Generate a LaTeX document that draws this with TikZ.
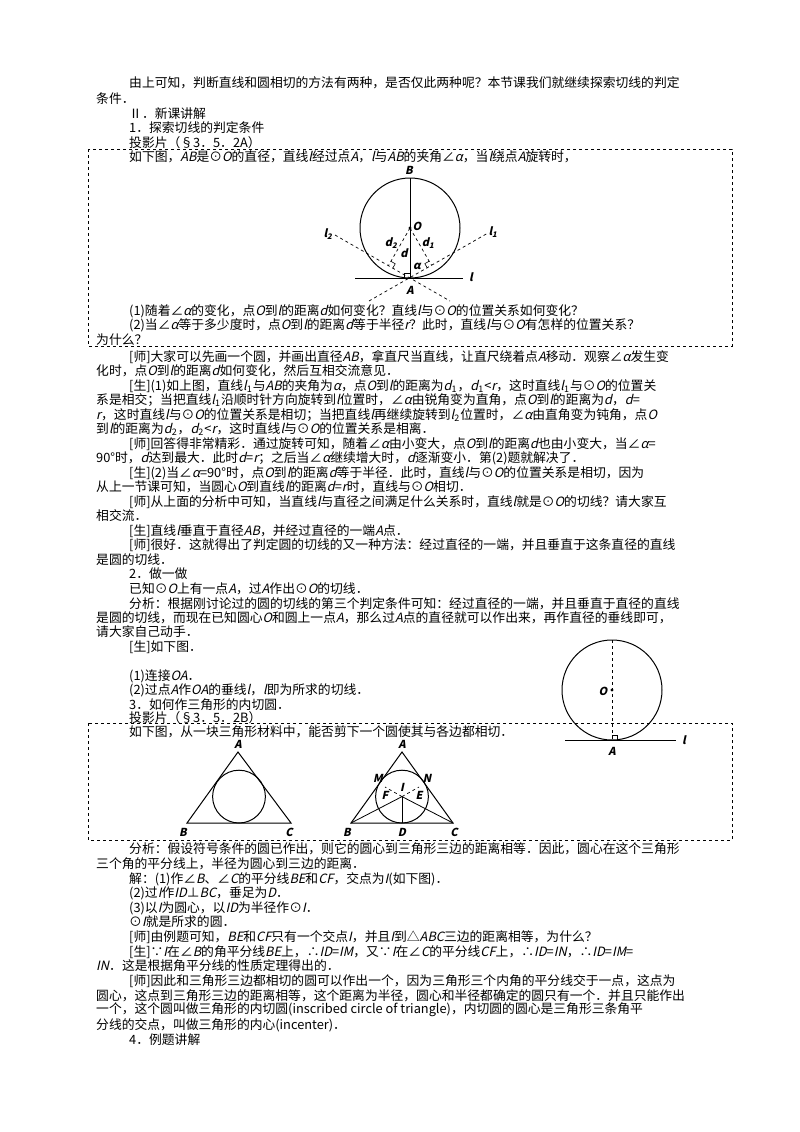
\documentclass[tikz,border=0pt]{standalone}
\usepackage{fontspec}
\setmainfont{Noto Sans CJK SC}
\newfontfamily\slf[FakeSlant=0.22]{Noto Sans CJK SC}
\newcommand\I[1]{{\slf #1}}
\newcommand\sub[1]{\textsubscript{#1}\kern0.5pt}
\usetikzlibrary{calc}
\begin{document}
\begin{tikzpicture}[x=1pt,y=-1pt,
  tl/.style={anchor=west,inner sep=0pt,font=\fontsize{12.8}{14}\selectfont},
  lab/.style={inner sep=0pt,font=\fontsize{11}{12}\selectfont\slf\bfseries},
  fig/.style={line width=1pt},
  dl/.style={dashed,line width=0.7pt},
  box/.style={dashed,line width=0.6pt}]
\useasboundingbox[fill=white] (0,0) rectangle (800,1132);
\def\a{129}\def\n{96}
% text lines
\foreach \x/\y/\t in {
\a/83/{由上可知，判断直线和圆相切的方法有两种，是否仅此两种呢？本节课我们就继续探索切线的判定},
\n/99/{条件．},
\a/114/{Ⅱ．新课讲解},
\a/128/{1．探索切线的判定条件},
\a/143/{投影片（§3．5．2A）},
\a/157/{如下图，\I{AB}是⊙\I{O}的直径，直线\I{l}经过点\I{A}，\I{l}与\I{AB}的夹角∠\I{α}，当\I{l}绕点\I{A}旋转时，},
\a/311/{(1)随着∠\I{α}的变化，点\I{O}到\I{l}的距离\I{d}如何变化？直线\I{l}与⊙\I{O}的位置关系如何变化？},
\a/325/{(2)当∠\I{α}等于多少度时，点\I{O}到\I{l}的距离\I{d}等于半径\I{r}？此时，直线\I{l}与⊙\I{O}有怎样的位置关系？},
\n/340/{为什么？},
\a/357/{[师]大家可以先画一个圆，并画出直径\I{AB}，拿直尺当直线，让直尺绕着点\I{A}移动．观察∠\I{α}发生变},
\n/371/{化时，点\I{O}到\I{l}的距离\I{d}如何变化，然后互相交流意见．},
\a/386/{[生](1)如上图，直线\I{l}\sub{1}与\I{AB}的夹角为\I{α}，点\I{O}到\I{l}的距离为\I{d}\sub{1}，\I{d}\sub{1}<\I{r}，这时直线\I{l}\sub{1}与⊙\I{O}的位置关},
\n/400/{系是相交；当把直线\I{l}\sub{1}沿顺时针方向旋转到\I{l}位置时，∠\I{α}由锐角变为直角，点\I{O}到\I{l}的距离为\I{d}，\I{d}=},
\n/415/{\I{r}，这时直线\I{l}与⊙\I{O}的位置关系是相切；当把直线\I{l}再继续旋转到\I{l}\sub{2}位置时，∠\I{α}由直角变为钝角，点\I{O}},
\n/429/{到\I{l}的距离为\I{d}\sub{2}，\I{d}\sub{2}<\I{r}，这时直线\I{l}与⊙\I{O}的位置关系是相离．},
\a/444/{[师]回答得非常精彩．通过旋转可知，随着∠\I{α}由小变大，点\I{O}到\I{l}的距离\I{d}也由小变大，当∠\I{α}=},
\n/458/{90°时，\I{d}达到最大．此时\I{d}=\I{r}；之后当∠\I{α}继续增大时，\I{d}逐渐变小．第(2)题就解决了．},
\a/473/{[生](2)当∠\I{α}=90°时，点\I{O}到\I{l}的距离\I{d}等于半径．此时，直线\I{l}与⊙\I{O}的位置关系是相切，因为},
\n/487/{从上一节课可知，当圆心\I{O}到直线\I{l}的距离\I{d}=\I{r}时，直线与⊙\I{O}相切．},
\a/502/{[师]从上面的分析中可知，当直线\I{l}与直径之间满足什么关系时，直线\I{l}就是⊙\I{O}的切线？请大家互},
\n/516/{相交流．},
\a/531/{[生]直线\I{l}垂直于直径\I{AB}，并经过直径的一端\I{A}点．},
\a/545/{[师]很好．这就得出了判定圆的切线的又一种方法：经过直径的一端，并且垂直于这条直径的直线},
\n/560/{是圆的切线．},
\a/574/{2．做一做},
\a/589/{已知⊙\I{O}上有一点\I{A}，过\I{A}作出⊙\I{O}的切线．},
\a/604/{分析：根据刚讨论过的圆的切线的第三个判定条件可知：经过直径的一端，并且垂直于直径的直线},
\n/618/{是圆的切线，而现在已知圆心\I{O}和圆上一点\I{A}，那么过\I{A}点的直径就可以作出来，再作直径的垂线即可，},
\n/632/{请大家自己动手．},
\a/647/{[生]如下图．},
\a/676/{(1)连接\I{OA}．},
\a/690/{(2)过点\I{A}作\I{OA}的垂线\I{l}，\I{l}即为所求的切线．},
\a/705/{3．如何作三角形的内切圆．},
\a/718/{投影片（§3．5．2B）},
\a/732/{如下图，从一块三角形材料中，能否剪下一个圆使其与各边都相切．},
\a/849/{分析：假设符号条件的圆已作出，则它的圆心到三角形三边的距离相等．因此，圆心在这个三角形},
\n/864/{三个角的平分线上，半径为圆心到三边的距离．},
\a/879/{解：(1)作∠\I{B}、∠\I{C}的平分线\I{BE}和\I{CF}，交点为\I{I}(如下图)．},
\a/893/{(2)过\I{I}作\I{ID}⊥\I{BC}，垂足为\I{D}．},
\a/908/{(3)以\I{I}为圆心，以\I{ID}为半径作⊙\I{I}．},
\a/922/{⊙\I{I}就是所求的圆．},
\a/937/{[师]由例题可知，\I{BE}和\I{CF}只有一个交点\I{I}，并且\I{I}到△\I{ABC}三边的距离相等，为什么？},
\a/952/{[生]∵\I{I}在∠\I{B}的角平分线\I{BE}上，∴\I{ID}=\I{IM}，又∵\I{I}在∠\I{C}的平分线\I{CF}上，∴\I{ID}=\I{IN}，∴\I{ID}=\I{IM}=},
\n/966/{\I{IN}．这是根据角平分线的性质定理得出的．},
\a/981/{[师]因此和三角形三边都相切的圆可以作出一个，因为三角形三个内角的平分线交于一点，这点为},
\n/996/{圆心，这点到三角形三边的距离相等，这个距离为半径，圆心和半径都确定的圆只有一个．并且只能作出},
\n/1010/{一个，这个圆叫做三角形的内切圆(inscribed circle of triangle)，内切圆的圆心是三角形三条角平},
\n/1025/{分线的交点，叫做三角形的内心(incenter)．},
\a/1040/{4．例题讲解}}
{\node[tl] at (\x,\y) {\t};}
% boxes
\draw[box] (88,149) rectangle (732,346);
\draw[box] (88,723) rectangle (732,840);
% figure 1
\coordinate (O) at (410,228); \coordinate (A) at (410,278); \coordinate (B) at (410,178);
\draw[fig] (O) circle[radius=50pt];
\draw[fig] (B) -- (A);
\fill (O) circle[radius=1.6pt];
\coordinate (Ls) at (355,278); \coordinate (Le) at (463,278);
\draw[fig] (Ls) -- (Le);
\coordinate (L1) at (488,233); \coordinate (L1b) at (369,301);
\coordinate (L2) at (335,235); \coordinate (L2b) at (450,301);
\draw[dl] (L1b) -- (L1); \draw[dl] (L2) -- (L2b);
\coordinate (F1) at ($(A)!(O)!(L1)$); \coordinate (F2) at ($(A)!(O)!(L2)$);
\draw[dl] (O) -- (F1); \draw[dl] (O) -- (F2);
\draw[line width=0.6pt] ($(F1)!5pt!(A)$) -- ($($(F1)!5pt!(A)$)+($(F1)!5pt!(O)$)-(F1)$) -- ($(F1)!5pt!(O)$);
\draw[line width=0.6pt] ($(F2)!5pt!(A)$) -- ($($(F2)!5pt!(A)$)+($(F2)!5pt!(O)$)-(F2)$) -- ($(F2)!5pt!(O)$);
\draw[line width=0.6pt] (404,278) -- (404,273) -- (410,273);
\node[lab] (nB) at (409,170) {B};
\node[lab] (nO) at (417,226) {O};
\node[lab] (nA) at (410,290) {A};
\node[lab] (nl) at (471,277) {l};
\node[lab] (nl1) at (493,232) {l\textsubscript{1}};
\node[lab] (nl2) at (328,234) {l\textsubscript{2}};
\node[lab] (nd2) at (391,243) {d\textsubscript{2}};
\node[lab] (nd) at (404,253) {d};
\node[lab] (nd1) at (428,243) {d\textsubscript{1}};
\node[lab] (nal) at (417,266) {α};
% right figure
\coordinate (O3) at (612,690); \coordinate (T3) at (612,640); \coordinate (A3) at (612,740);
\draw[fig] (O3) circle[radius=50pt];
\draw[dl] (T3) -- (A3);
\fill (O3) circle[radius=1.6pt];
\draw[fig] (565,740) -- (676,740);
\draw[line width=0.6pt] (612,735) -- (617,735) -- (617,740);
\node[lab] at (603,691) {O};
\node[lab] at (612,751) {A};
\node[lab] at (684,740) {l};
% triangle 1
\coordinate (tA) at (238,752); \coordinate (tB) at (187,823); \coordinate (tC) at (291,823);
\draw[fig] (tA) -- (tB) -- (tC) -- cycle;
\draw[fig] (239,796.6) circle[radius=26.4pt];
\node[lab] at (238,744) {A};
\node[lab] at (183,832) {B};
\node[lab] at (289,832) {C};
% triangle 2
\coordinate (sA) at (402,752); \coordinate (sB) at (351,823); \coordinate (sC) at (453,823);
\coordinate (sI) at (402,796.6); \coordinate (sD) at (402,823);
\coordinate (sE) at (419,787); \coordinate (sF) at (385,787);
\draw[fig] (sA) -- (sB) -- (sC) -- cycle;
\draw[fig] (sI) circle[radius=26.4pt];
\draw[line width=0.8pt] (sB) -- (sI) -- (sC);
\draw[line width=0.8pt] (sI) -- (sD);
\draw[dl] (sI) -- (sE); \draw[dl] (sI) -- (sF);
\node[lab] at (402,744) {A};
\node[lab] at (347,832) {B};
\node[lab] at (402,832) {D};
\node[lab] at (454,832) {C};
\node[lab] at (378,778) {M};
\node[lab] at (427,778) {N};
\node[lab] at (402,787) {I};
\node[lab] at (385,795) {F};
\node[lab] at (419,795) {E};
\end{tikzpicture}
\end{document}
